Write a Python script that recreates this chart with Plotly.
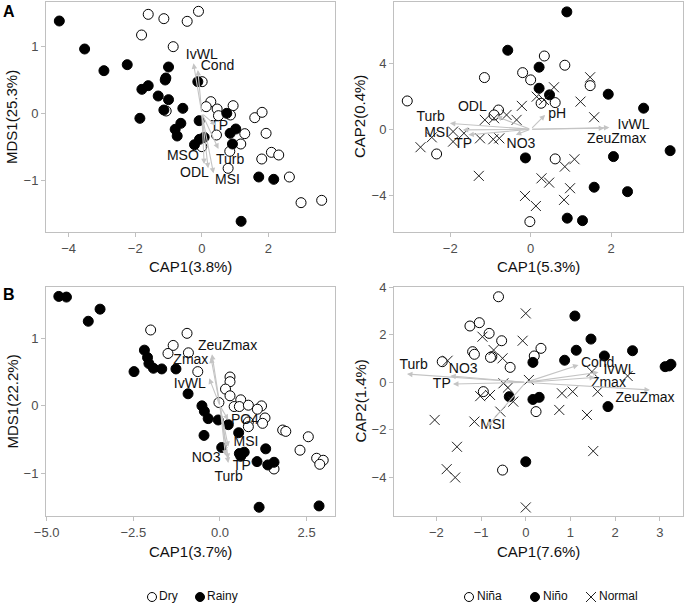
import plotly.graph_objects as go

W, H = 685, 606
FONT = "Liberation Sans, Arial, sans-serif"

# ---------------- Panel A (left): season ----------------
A1_dry_x = [-1.61, -1.14, -0.44, -0.10, -1.81, -0.86, 0.01, 0.27, 0.13, 0.46, 0.50, 0.94, 0.86, -1.07,
            1.59, 1.81, 1.93, 1.29, 1.17, 0.84, 0.44, 0.79, 1.80, 2.09, 2.31, 2.63, 2.98, 3.60, 0.0]
A1_dry_y = [1.485, 1.42, 1.38, 1.53, 1.175, 1.0, 0.475, 0.175, 0.10, 0.065, -0.035, 0.115, -0.025, 0.035,
            -0.065, 0.015, -0.30, -0.305, -0.46, -0.57, -0.325, -0.825, -0.685, -0.585, -0.625, -0.955, -1.34, -1.305, -0.5]
A1_rainy_x = [-4.28, -3.52, -2.94, -2.24, -1.0, -1.10, -1.08, -1.61, -1.80, -1.31, -1.0, -1.14, -0.57, -1.86,
              -0.63, -0.80, -0.74, -0.12, -0.08, 0.75, 0.85, 1.02, 0.92, -0.22, -0.07, 0.07, 1.71, 2.16, 1.18]
A1_rainy_y = [1.385, 0.965, 0.64, 0.73, 0.695, 0.50, 0.53, 0.415, 0.36, 0.26, 0.205, 0.05, 0.075, -0.075,
              -0.15, -0.24, -0.34, 0.475, -0.11, 0.0, -0.30, -0.235, -0.46, -0.47, -0.39, -0.36, -0.955, -0.99, -1.62]
A1_vars = ["IvWL", "Cond", "TP", "Turb", "MSO", "ODL", "MSI"]
A1_tip_x = [-0.25, -0.12, 0.42, 0.50, 0.07, 0.19, 0.35]
A1_tip_y = [0.75, 0.65, -0.18, -0.535, -0.76, -0.825, -0.90]
A1_lab_x = [0.0, 0.47, 0.52, 0.85, -0.57, -0.22, 0.77]
A1_lab_y = [0.865, 0.70, -0.20, -0.70, -0.64, -0.90, -1.0]

# ---------------- Panel A (right): ENSO ----------------
A2_nina_x = [-3.07, -1.15, -0.20, 0.0, 0.34, 0.85, 1.48, 0.26, 0.61, -0.80, -2.34, 0.61, -0.02, -0.91]
A2_nina_y = [1.72, 3.14, 3.44, 3.0, 4.45, 3.89, 2.65, 1.58, 1.62, 1.17, -1.50, -1.80, -5.61, 0.87]
A2_nino_x = [0.90, -0.57, 0.21, 0.21, 0.47, 1.93, 2.81, 3.47, 2.06, 1.58, 2.41, 0.91, 1.29, -0.13]
A2_nino_y = [7.13, 4.80, 3.77, 2.49, 2.09, 2.13, 1.28, -1.30, -1.66, -3.52, -3.79, -5.40, -5.55, -1.74]
A2_normal_x = [-2.74, -2.46, -1.93, -1.93, -1.66, -1.29, -1.14, -0.91, -0.60, -0.35, -0.22, 0.15, 0.33, 0.58,
               1.48, 1.24, 1.58, -0.93, -1.26, -0.78, 0.85, 1.09, 0.27, 0.46, 0.98, 0.83, -0.14, 0.13]
A2_normal_y = [-1.09, -0.49, -0.14, -0.75, -0.24, -2.83, 0.57, 0.67, 0.87, 0.57, 1.42, 1.98, 1.78, 2.55,
               3.16, 1.68, 0.73, -0.61, -0.55, -0.55, -2.27, -1.82, -2.98, -3.24, -3.58, -4.29, -4.05, -4.66]
A2_vars = ["Turb", "MSI", "TP", "ODL", "NO3", "pH", "IvWL", "ZeuZmax"]
A2_tip_x = [-2.01, -1.69, -1.55, -0.85, -0.37, 0.36, 1.96, 1.83]
A2_tip_y = [0.36, -0.04, -0.34, 0.77, -0.34, 0.87, 0.10, 0.06]
A2_lab_x = [-2.49, -2.34, -1.68, -1.45, -0.24, 0.66, 2.56, 2.14]
A2_lab_y = [0.73, -0.28, -0.91, 1.32, -0.95, 0.91, 0.22, -0.61]

# ---------------- Panel B (left): season ----------------
B1_dry_x = [-2.0, -0.95, -1.35, -1.50, -0.91, -0.64, 0.29, 0.29, 0.16, 0.29, -0.03, 0.60, 0.41, 0.56, 0.82,
            1.20, 1.08, 1.30, 0.82, 1.23, 0.82, 1.81, 1.90, 2.55, 2.31, 2.79, 2.98, 2.88, 1.56]
B1_dry_y = [1.13, 1.08, 0.90, 0.78, 0.79, 0.51, 0.43, 0.36, 0.25, 0.15, 0.05, 0.09, -0.01, -0.01, 0.01,
            0.0, -0.05, -0.18, -0.24, -0.26, -0.31, -0.36, -0.38, -0.46, -0.66, -0.78, -0.81, -0.87, -0.94]
B1_rainy_x = [-4.65, -4.43, -3.46, -3.80, -2.18, -2.09, -2.05, -1.92, -1.68, -1.27, -2.48, -0.92, -0.52, -0.45,
              -0.34, -0.46, -0.05, 0.24, 0.05, 0.54, 0.56, 0.70, 0.60, 1.07, 1.32, 1.38, 1.56, 1.13, 2.86]
B1_rainy_y = [1.63, 1.62, 1.44, 1.26, 0.83, 0.72, 0.63, 0.56, 0.55, 0.55, 0.51, 0.18, 0.0, -0.08,
              -0.19, -0.44, -0.21, -0.28, -0.62, -0.40, -0.71, -0.69, -0.75, -0.83, -0.64, -0.88, -0.84, -1.51, -1.49]
B1_vars = ["ZeuZmax", "Zmax", "IvWL", "PO4", "MSI", "NO3", "TP", "Turb"]
B1_tip_x = [-0.23, -0.26, -0.31, 0.24, 0.24, 0.16, 0.24, 0.24]
B1_tip_y = [0.77, 0.72, 0.41, -0.21, -0.61, -0.74, -0.79, -0.85]
B1_lab_x = [0.22, -0.84, -0.87, 0.72, 0.75, -0.40, 0.63, 0.25]
B1_lab_y = [0.89, 0.67, 0.32, -0.22, -0.55, -0.79, -0.90, -1.06]

# ---------------- Panel B (right): ENSO ----------------
B2_nina_x = [-0.61, -1.25, -1.04, -0.82, -0.54, 0.34, 0.19, -1.19, -1.15, -0.76, -0.79, -0.35, -1.87, -0.95, 0.23, -0.52]
B2_nina_y = [3.60, 2.37, 2.51, 2.06, 1.75, 1.43, 1.11, 1.29, 1.18, 1.08, 1.05, 0.63, 0.87, -0.39, -1.23, -3.69]
B2_nino_x = [1.10, 1.46, 1.13, 1.76, 2.39, 3.21, 3.12, 3.25, 0.87, 0.16, -0.37, 0.16, 0.30, 1.84, 0.0]
B2_nino_y = [2.79, 1.82, 1.35, 1.11, 1.33, 0.69, 0.66, 0.76, 0.93, 0.84, -0.60, -0.72, -0.63, -1.02, -3.34]
B2_normal_x = [0.0, -0.07, -0.97, -0.72, -0.52, -1.75, 0.07, -0.50, -0.40, -1.02, -0.80, -0.28, -0.57, -2.04,
               -1.15, -1.54, -1.77, -1.58, 0.0, 0.81, 1.05, 0.75, 1.37, 1.61, 1.51, 1.48, 2.28]
B2_normal_y = [2.90, 1.75, 1.92, 1.36, 1.01, 0.91, 0.10, -0.04, -0.22, -0.58, -0.53, -0.81, -1.23, -1.58,
               -1.65, -2.71, -3.65, -4.0, -5.26, -0.46, -0.39, -1.16, -1.37, -0.39, -2.89, 0.45, 0.27]
B2_vars = ["Turb", "NO3", "TP", "MSI", "Cond", "IvWL", "Zmax", "ZeuZmax"]
B2_tip_x = [-2.66, -1.69, -1.63, -0.87, 1.18, 1.63, 1.55, 2.78]
B2_tip_y = [0.35, 0.27, -0.07, -1.87, 0.73, 0.42, 0.21, -0.32]
B2_lab_x = [-2.51, -1.40, -1.88, -0.74, 1.61, 2.10, 1.85, 2.67]
B2_lab_y = [0.73, 0.56, -0.11, -1.82, 0.80, 0.48, -0.04, -0.67]

# axis labels / ticks
x_titles = ["CAP1(3.8%)", "CAP1(5.3%)", "CAP1(3.7%)", "CAP1(7.6%)"]
y_titles = ["MDS1(25.3%)", "CAP2(0.4%)", "MDS1(22.2%)", "CAP2(1.4%)"]
x_ticks = [[-4, -2, 0, 2], [-2, 0, 2], [-5.0, -2.5, 0.0, 2.5], [-2, -1, 0, 1, 2, 3]]
y_ticks = [[-1, 0, 1], [-4, 0, 4], [-1, 0, 1], [-4, -2, 0, 2, 4]]
legend_season = ["Dry", "Rainy"]
legend_enso = ["Niña", "Niño", "Normal"]

fig = go.Figure()

OPEN = dict(symbol="circle", size=10, color="white", line=dict(color="black", width=1))
FILLED = dict(symbol="circle", size=10, color="black", line=dict(color="black", width=1))
CROSS = dict(symbol="x-thin-open", size=10, color="#222222", line=dict(color="#222222", width=1))


def pts(xs, ys, marker, xa, ya):
    fig.add_trace(go.Scatter(x=xs, y=ys, mode="markers", marker=marker, xaxis=xa, yaxis=ya,
                             showlegend=False, hoverinfo="skip", cliponaxis=False))


def labels(xs, ys, txt, xa, ya):
    fig.add_trace(go.Scatter(x=xs, y=ys, mode="text", text=txt, textposition="middle center",
                             textfont=dict(size=14, color="#111111", family=FONT),
                             xaxis=xa, yaxis=ya, showlegend=False, hoverinfo="skip", cliponaxis=False))


def arrows(tx, ty, xr, yr):
    for x, y in zip(tx, ty):
        fig.add_annotation(x=x, y=y, ax=0, ay=0, xref=xr, yref=yr, axref=xr, ayref=yr,
                           text="", showarrow=True, arrowhead=2, arrowsize=1, arrowwidth=1.1,
                           arrowcolor="#c4c4c4")


pts(A1_dry_x, A1_dry_y, OPEN, "x", "y")
pts(A1_rainy_x, A1_rainy_y, FILLED, "x", "y")
pts(A2_nina_x, A2_nina_y, OPEN, "x2", "y2")
pts(A2_nino_x, A2_nino_y, FILLED, "x2", "y2")
pts(A2_normal_x, A2_normal_y, CROSS, "x2", "y2")
pts(B1_dry_x, B1_dry_y, OPEN, "x3", "y3")
pts(B1_rainy_x, B1_rainy_y, FILLED, "x3", "y3")
pts(B2_nina_x, B2_nina_y, OPEN, "x4", "y4")
pts(B2_nino_x, B2_nino_y, FILLED, "x4", "y4")
pts(B2_normal_x, B2_normal_y, CROSS, "x4", "y4")

arrows(A1_tip_x, A1_tip_y, "x", "y")
arrows(A2_tip_x, A2_tip_y, "x2", "y2")
arrows(B1_tip_x, B1_tip_y, "x3", "y3")
arrows(B2_tip_x, B2_tip_y, "x4", "y4")

labels(A1_lab_x, A1_lab_y, A1_vars, "x", "y")
labels(A2_lab_x, A2_lab_y, A2_vars, "x2", "y2")
labels(B1_lab_x, B1_lab_y, B1_vars, "x3", "y3")
labels(B2_lab_x, B2_lab_y, B2_vars, "x4", "y4")

# legend keys drawn on a pixel-space overlay axis
LEG_Y = 597
leg1_key_x = [152, 200]
leg2_key_x = [469, 535, 591]
fig.add_trace(go.Scatter(x=[leg1_key_x[0], leg2_key_x[0]], y=[LEG_Y, LEG_Y], mode="markers",
                         marker=dict(symbol="circle", size=9, color="white", line=dict(color="black", width=1)),
                         xaxis="x5", yaxis="y5", showlegend=False, hoverinfo="skip", cliponaxis=False))
fig.add_trace(go.Scatter(x=[leg1_key_x[1], leg2_key_x[1]], y=[LEG_Y, LEG_Y], mode="markers",
                         marker=dict(symbol="circle", size=9, color="black", line=dict(color="black", width=1)),
                         xaxis="x5", yaxis="y5", showlegend=False, hoverinfo="skip", cliponaxis=False))
fig.add_trace(go.Scatter(x=[leg2_key_x[2]], y=[LEG_Y], mode="markers",
                         marker=dict(symbol="x-thin-open", size=10, color="#222222", line=dict(color="#222222", width=1)),
                         xaxis="x5", yaxis="y5", showlegend=False, hoverinfo="skip", cliponaxis=False))
fig.add_trace(go.Scatter(x=[k + 7 for k in leg1_key_x] + [k + 8 for k in leg2_key_x],
                         y=[LEG_Y] * 5, mode="text", text=legend_season + legend_enso,
                         textposition="middle right", textfont=dict(size=12, color="#111111", family=FONT),
                         xaxis="x5", yaxis="y5", showlegend=False, hoverinfo="skip", cliponaxis=False))

# panel geometry (pixels)
cols = [(46, 335), (394, 683)]
rows = [(2, 232), (287, 516)]
x_ranges = [[-4.68, 4.0], [-3.40, 3.79], [-5.02, 3.32], [-2.95, 3.52]]
y_ranges = [[-1.78, 1.67], [-6.24, 7.73], [-1.64, 1.77], [-5.62, 4.01]]

layout = dict(width=W, height=H, margin=dict(l=0, r=0, t=0, b=0, autoexpand=False),
              paper_bgcolor="white", plot_bgcolor="rgba(0,0,0,0)",
              font=dict(family=FONT), showlegend=False, hovermode=False)
for i in range(4):
    c = cols[i % 2]
    r = rows[i // 2]
    sfx = "" if i == 0 else str(i + 1)
    fmt = ".1f" if i == 2 else ""
    layout["xaxis" + sfx] = dict(domain=[c[0] / W, c[1] / W], anchor="y" + sfx, range=x_ranges[i],
                                 automargin=False,
                                 showgrid=False, zeroline=False, showline=True, mirror=True,
                                 linecolor="#c0c0c0", linewidth=1, ticks="outside", ticklen=4,
                                 tickcolor="#c0c0c0", tickvals=x_ticks[i], tickformat=fmt,
                                 tickfont=dict(size=13, color="#4d4d4d", family=FONT))
    layout["yaxis" + sfx] = dict(domain=[1 - r[1] / H, 1 - r[0] / H], anchor="x" + sfx, range=y_ranges[i],
                                 automargin=False,
                                 showgrid=False, zeroline=False, showline=True, mirror=True,
                                 linecolor="#c0c0c0", linewidth=1, ticks="outside", ticklen=4,
                                 tickcolor="#c0c0c0", tickvals=y_ticks[i],
                                 tickfont=dict(size=13, color="#4d4d4d", family=FONT))
    # axis titles
    fig.add_annotation(x=(c[0] + c[1]) / 2 / W, y=1 - (r[1] + 35) / H, xref="paper", yref="paper",
                       text=x_titles[i], showarrow=False, font=dict(size=15, color="#111111", family=FONT),
                       xanchor="center", yanchor="middle")
    fig.add_annotation(x=(c[0] - 34) / W, y=1 - (r[0] + r[1]) / 2 / H, xref="paper", yref="paper",
                       text=y_titles[i], showarrow=False, textangle=-90,
                       font=dict(size=15, color="#111111", family=FONT), xanchor="center", yanchor="middle")

layout["xaxis5"] = dict(domain=[0, 1], range=[0, W], visible=False, anchor="y5", automargin=False,
                        fixedrange=True)
layout["yaxis5"] = dict(domain=[0, 1], range=[H, 0], visible=False, anchor="x5", automargin=False,
                        fixedrange=True)
fig.update_layout(**layout)

for letter, py in [("A", 11), ("B", 294)]:
    fig.add_annotation(x=9 / W, y=1 - py / H, xref="paper", yref="paper", text="<b>%s</b>" % letter,
                       showarrow=False, font=dict(size=16, color="black", family=FONT),
                       xanchor="center", yanchor="middle")

fig.write_html("out.html", config={"displayModeBar": False},
               post_script="document.body.style.margin='0px';")
